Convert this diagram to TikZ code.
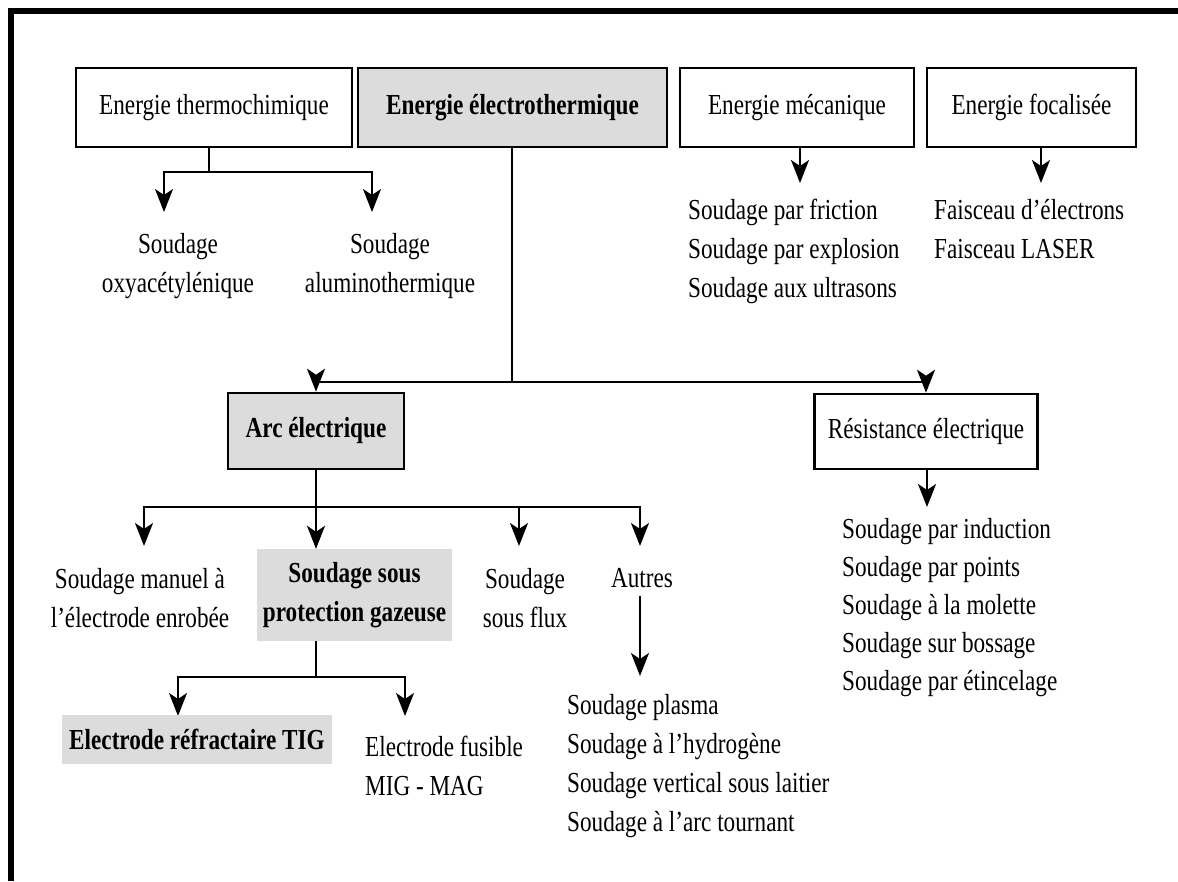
\documentclass[tikz,border=0pt]{standalone}
\usepackage{fontspec}
\setmainfont{Liberation Serif}[FakeStretch=0.8]
\usetikzlibrary{arrows.meta}
\definecolor{boxgray}{RGB}{220,220,220}
\newcommand\myfs{\fontsize{29}{39}\selectfont}
\begin{document}
\begin{tikzpicture}[x=1pt,y=-1pt,
  every node/.style={font=\myfs, inner sep=0pt},
  bold/.style={font=\myfs\bfseries},
  ebox/.style={draw, line width=2.6pt, minimum height=79pt},
  gbox/.style={ebox, fill=boxgray},
  gfill/.style={fill=boxgray},
  lab/.style={align=center},
  lst/.style={align=left, anchor=north west},
  conn/.style={line width=2.2pt},
  arr/.style={conn, -{Stealth[length=23pt,width=18pt,inset=6pt]}},
]
\useasboundingbox (0,0) rectangle (1178,881);
\fill[white] (0,0) rectangle (1178,881);
\draw[line width=6pt] (11,881) -- (11,11) -- (1178,11);

% top row
\node[ebox, minimum width=276pt] (thermo) at (214,107.5) {Energie thermochimique};
\node[gbox, bold, minimum width=309pt] (electro) at (512.5,107.5) {Energie électrothermique};
\node[ebox, minimum width=234pt] (meca) at (797,107.5) {Energie mécanique};
\node[ebox, minimum width=209pt] (focal) at (1031.5,107.5) {Energie focalisée};

% thermochimique
\node[lab] (oxy) at (178,266) {Soudage\\oxyacétylénique};
\node[lab] (alu) at (390,266) {Soudage\\aluminothermique};
\coordinate (tj) at (209,172);
\coordinate (oxyT) at (164,212);
\coordinate (aluT) at (372,212);
\draw[conn] (thermo.south -| tj) -- (tj);
\draw[arr] (tj) -| (oxyT);
\draw[arr] (tj) -| (aluT);

% mecanique / focalisee
\coordinate (mecaT) at (800,183);
\coordinate (focT) at (1041,183);
\draw[arr] (meca.south -| mecaT) -- (mecaT);
\draw[arr] (focal.south -| focT) -- (focT);
\node[lst] (mecal) at (688,199) {Soudage par friction\\Soudage par explosion\\Soudage aux ultrasons};
\node[lst] (focl) at (934,199) {Faisceau d’électrons\\Faisceau LASER};

% electrothermique
\node[gbox, bold, minimum width=176pt, minimum height=76pt] (arc) at (316,431) {Arc électrique};
\node[ebox, minimum width=223pt, minimum height=75pt] (res) at (926,431.5) {Résistance électrique};
\coordinate (ej) at (512,382);
\draw[conn] (electro.south -| ej) -- (ej);
\draw[arr] (ej) -| (arc.north);
\draw[arr] (ej) -| (res.north);

% resistance
\coordinate (resT) at (927,507);
\draw[arr] (res.south -| resT) -- (resT);
\node[lst, font=\fontsize{29}{38}\selectfont] (resl) at (842,518) {Soudage par induction\\Soudage par points\\Soudage à la molette\\Soudage sur bossage\\Soudage par étincelage};

% arc electrique
\node[lab] (manuel) at (140,598) {Soudage manuel à\\l’électrode enrobée};
\node[gfill, bold, align=center, minimum width=195pt, minimum height=92pt] (prot) at (354.5,595) {Soudage sous\\protection gazeuse};
\node[lab] (flux) at (525,598) {Soudage\\sous flux};
\node (autres) at (642,578) {Autres};
\coordinate (aj) at (316,507);
\coordinate (manT) at (144,546);
\coordinate (fluxT) at (519,546);
\coordinate (autT) at (640,546);
\draw[conn] (arc.south) -- (aj);
\draw[arr] (aj) -| (manT);
\draw[arr] (aj) -| (fluxT);
\draw[arr] (aj) -| (autT);
\draw[arr] (aj) -- (aj |- prot.north);

% autres
\coordinate (autS) at (640,596);
\coordinate (autL) at (640,676);
\draw[arr] (autS) -- (autL);
\node[lst] (autl) at (567,694) {Soudage plasma\\Soudage à l’hydrogène\\Soudage vertical sous laitier\\Soudage à l’arc tournant};

% protection gazeuse
\coordinate (pj) at (316,677);
\coordinate (tigT) at (178,716);
\coordinate (fusT) at (405,716);
\draw[conn] (prot.south -| pj) -- (pj);
\draw[arr] (pj) -| (tigT);
\draw[arr] (pj) -| (fusT);
\node[gfill, bold, minimum width=270pt, minimum height=49pt] (tig) at (197,739.5) {Electrode réfractaire TIG};
\node[align=left, anchor=west] (fus) at (365,766) {Electrode fusible\\MIG - MAG};
\end{tikzpicture}
\end{document}
